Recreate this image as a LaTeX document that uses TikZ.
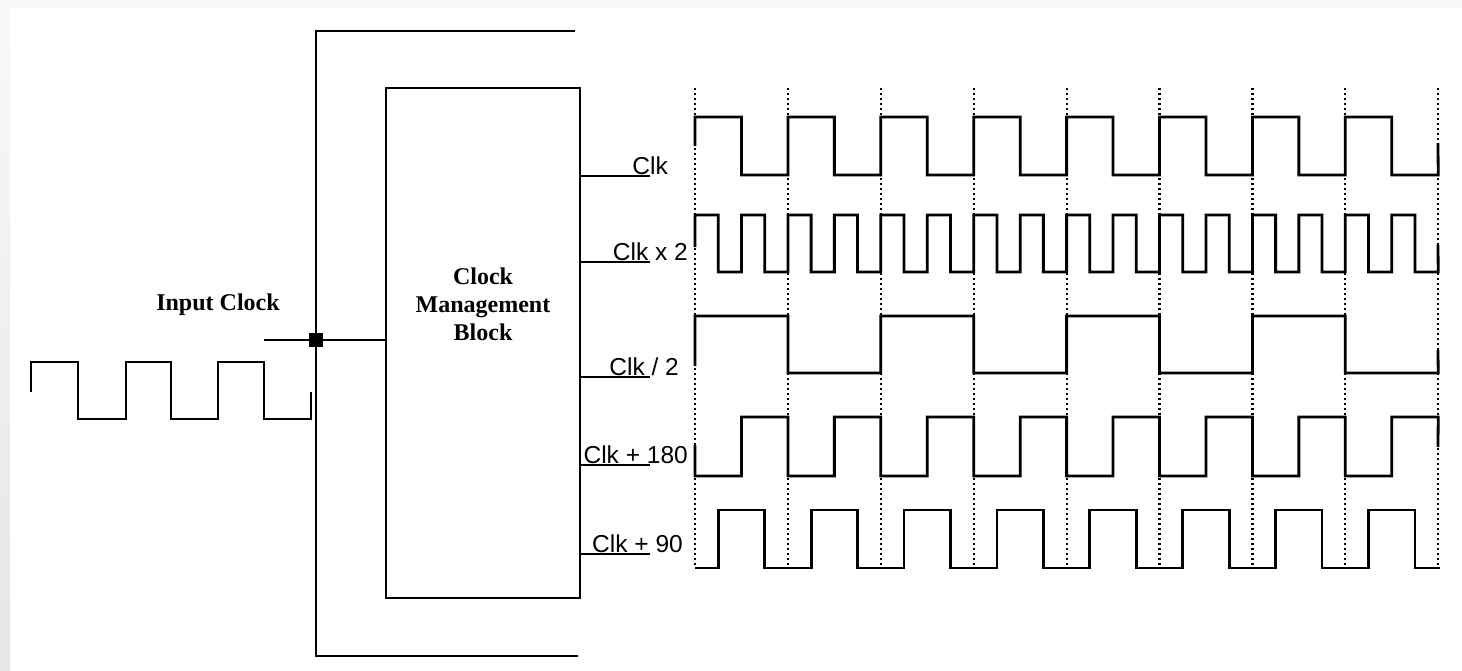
\documentclass[tikz,border=0pt]{standalone}
\usepackage{fontspec}
\setmainfont{Liberation Serif}
\newfontfamily\lblfont{Liberation Sans}
\usetikzlibrary{positioning}
\tikzset{
  wire/.style={line width=2.5pt},
  wave/.style={line width=2.8pt,line join=miter},
  gridline/.style={line width=2.2pt,dash pattern=on 2pt off 3pt},
  lbl/.style={font=\lblfont\fontsize{24.5}{28}\selectfont,inner sep=0pt,anchor=base east},
  title/.style={font=\bfseries\fontsize{24}{28}\selectfont,inner sep=0pt,align=center},
  junction/.style={fill=black,minimum size=14pt,inner sep=0pt}
}
\def\xo{695}
\def\per{92.9}
\begin{document}
\begin{tikzpicture}[x=1pt,y=-1pt]
\useasboundingbox (0,0) rectangle (1462,670);
% grauer Rand links und oben
\fill[gray!5] (0,0) rectangle (1462,8);
\shade[top color=gray!5,bottom color=gray!20] (0,8) rectangle (10,670);
% Block und Klammer
\node[draw,line width=2.5pt,minimum width=194pt,minimum height=510pt] (cmb) at (483,343) {};
\node[title] (cmbtext) at (483,304) {Clock\\Management\\Block};
\draw[wire] (575,31) -- (316,31) -- (316,656) -- (578,656);
\node[junction] (jn) at (316,340) {};
\coordinate (inp) at (264,340);
\draw[wire] (inp) -- (jn) -- (cmb.west |- jn);
\node[title] (intext) at (218,305) {Input Clock};
% Eingangstakt
\draw[wave] (31,392) -- (31,362) -- (78,362) -- (78,419) -- (126,419) -- (126,362)
  -- (171,362) -- (171,419) -- (218,419) -- (218,362) -- (264,362) -- (264,419)
  -- (311,419) -- (311,392);
% Ausgaenge
\foreach \y/\name/\xr/\txt in {176/clk/668/{Clk}, 262/clkx/688/{Clk x 2}, 377/clkh/679/{Clk / 2},
                               465/clkc/688/{Clk + 180}, 554/clkq/683/{Clk + 90}} {
  \draw[wire] (cmb.east |- 0,\y) -- (650,\y);
  \node[lbl] (l\name) at (\xr,{\y-2}) {\txt};
}
% Zeitraster
\foreach \k in {0,...,8}
  \draw[gridline] ({\xo+\k*\per},88) -- ({\xo+\k*\per},565);
% Clk
\draw[wave] (\xo,146) foreach \k in {0,...,7} {
  -- ({\xo+\k*\per},117) -- ({\xo+(\k+0.5)*\per},117) -- ({\xo+(\k+0.5)*\per},175) -- ({\xo+(\k+1)*\per},175) }
  -- (1438,143);
% Clk x 2
\draw[wave] (\xo,247) foreach \k in {0,...,15} {
  -- ({\xo+\k*\per/2},215) -- ({\xo+(\k+0.5)*\per/2},215) -- ({\xo+(\k+0.5)*\per/2},272) -- ({\xo+(\k+1)*\per/2},272) }
  -- (1438,245);
% Clk / 2
\draw[wave] (\xo,366) foreach \k in {0,...,3} {
  -- ({\xo+2*\k*\per},316) -- ({\xo+(2*\k+1)*\per},316) -- ({\xo+(2*\k+1)*\per},373) -- ({\xo+(2*\k+2)*\per},373) }
  -- (1438,350);
% Clk + 180
\draw[wave] (\xo,445) foreach \k in {0,...,7} {
  -- ({\xo+\k*\per},476) -- ({\xo+(\k+0.5)*\per},476) -- ({\xo+(\k+0.5)*\per},417) -- ({\xo+(\k+1)*\per},417) }
  -- (1438,447);
% Clk + 90
\draw[wave] (\xo,568) foreach \k in {0,...,7} {
  -- ({\xo+(\k+0.25)*\per},568) -- ({\xo+(\k+0.25)*\per},510) -- ({\xo+(\k+0.75)*\per},510) -- ({\xo+(\k+0.75)*\per},568) }
  -- (1440,568);
\end{tikzpicture}
\end{document}
